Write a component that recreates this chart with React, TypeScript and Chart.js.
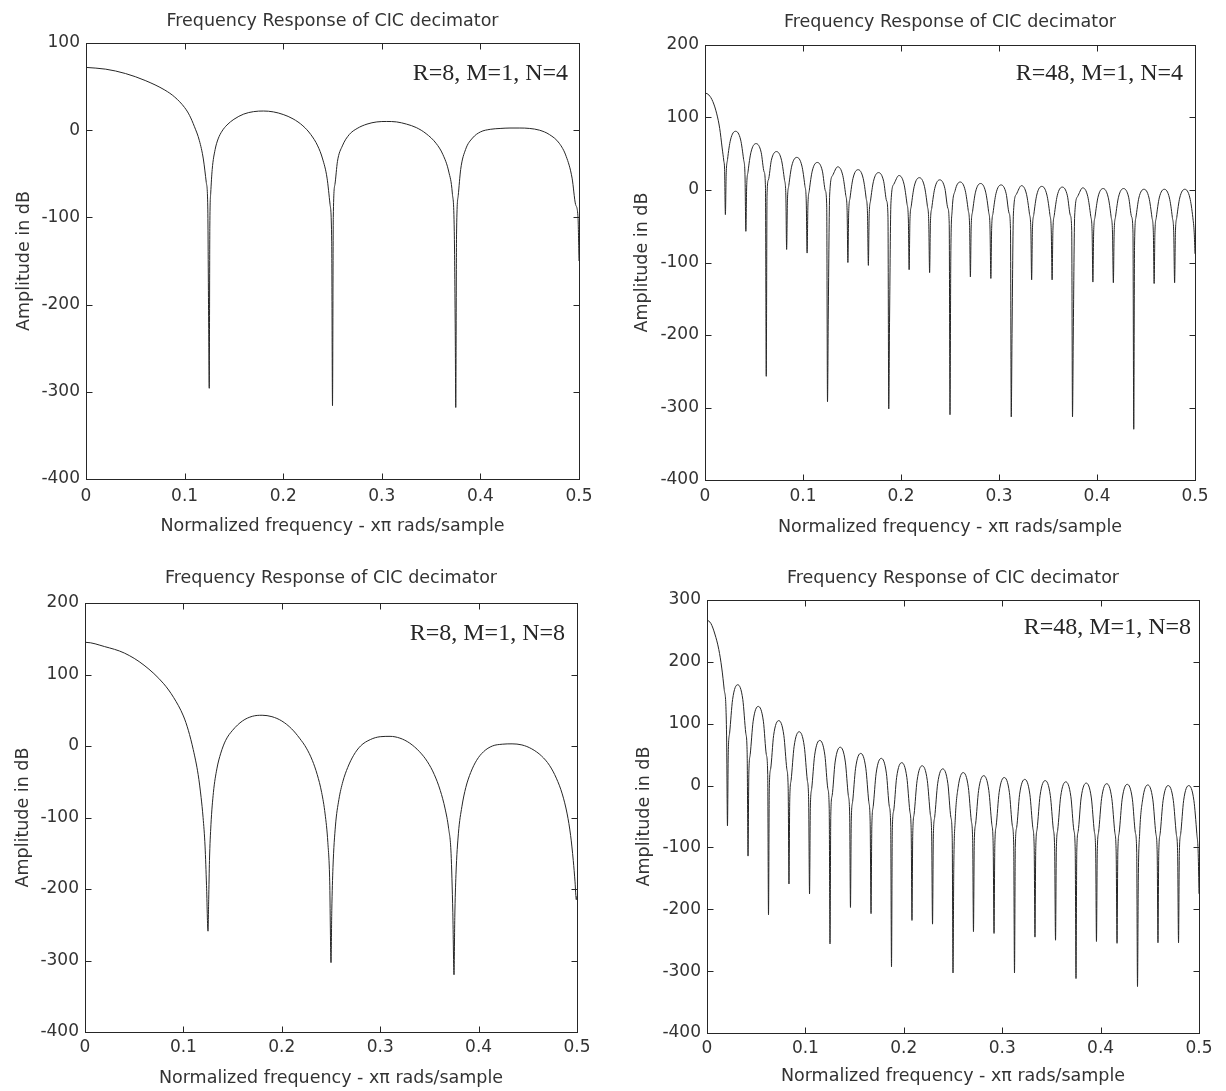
import React, { useEffect, useRef } from 'react';
import { Chart, registerables } from 'chart.js';

Chart.register(...registerables);

// ---------- text ----------
const CHART_TITLE = 'Frequency Response of CIC decimator';
const X_TITLE = 'Normalized frequency - xπ rads/sample';
const Y_TITLE = 'Amplitude in dB';
const NOTE_R8N4 = 'R=8, M=1, N=4';
const NOTE_R48N4 = 'R=48, M=1, N=4';
const NOTE_R8N8 = 'R=8, M=1, N=8';
const NOTE_R48N8 = 'R=48, M=1, N=8';

// ---------- axis ranges ----------
const X_MIN = 0;
const X_MAX = 0.5;
const X_STEP = 0.1;
const Y_MIN = -400;
const Y_STEP = 100;
const Y_MAX_R8N4 = 100;
const Y_MAX_R48N4 = 200;
const Y_MAX_R8N8 = 200;
const Y_MAX_R48N8 = 300;

// ---------- R=8, M=1, N=4 ----------
const freqR8N4 = [
  0, 0.02, 0.04, 0.06, 0.08, 0.09, 0.1, 0.105, 0.11, 0.115, 0.119, 0.122, 0.1235, 0.1243, 0.125,
  0.1256, 0.1265, 0.128, 0.131, 0.134, 0.138, 0.143, 0.15, 0.16, 0.17, 0.18, 0.19, 0.2, 0.21, 0.22, 0.228, 0.235, 0.24, 0.2445, 0.2475, 0.2492, 0.25,
  0.2508, 0.2525, 0.255, 0.26, 0.267, 0.275, 0.285, 0.295, 0.305, 0.315, 0.325, 0.335, 0.345, 0.355, 0.362, 0.368, 0.3715, 0.3735, 0.3745, 0.375,
  0.3758, 0.3775, 0.38, 0.385, 0.392, 0.4, 0.41, 0.42, 0.43, 0.44, 0.45, 0.46, 0.47, 0.48, 0.487, 0.493, 0.4965, 0.499, 0.5,
];
const dbR8N4 = [
  72, 70, 65, 57, 46, 38, 26, 17, 4, -12, -33, -60, -88, -207, -296,
  -110, -72, -45, -22, -10, -1, 6, 12.5, 18.5, 21.3, 22, 21, 18, 13, 5, -5, -18, -33, -55, -85, -128, -316,
  -100, -62, -36, -18, -5, 2, 7, 9.5, 10, 9.5, 7, 3, -4, -15, -28, -48, -72, -116, -231, -318,
  -120, -75, -45, -22, -9, -2, 1, 2, 2.5, 2.5, 2, 0, -5, -15, -30, -55, -85, -100, -150,
];

// ---------- R=8, M=1, N=8 ----------
const freqR8N8 = [
  0, 0.0005, 0.02, 0.04, 0.06, 0.08, 0.09, 0.1, 0.105, 0.11, 0.115, 0.118, 0.12, 0.122, 0.1235, 0.125,
  0.1257, 0.1265, 0.128, 0.1305, 0.134, 0.138, 0.143, 0.15, 0.16, 0.17, 0.18, 0.19, 0.2, 0.21, 0.218, 0.225, 0.231, 0.236, 0.2405, 0.244, 0.2468, 0.2487, 0.25,
  0.2508, 0.252, 0.2545, 0.258, 0.262, 0.267, 0.273, 0.28, 0.29, 0.3, 0.31, 0.32, 0.33, 0.34, 0.348, 0.355, 0.361, 0.366, 0.3695, 0.372, 0.3738, 0.375,
  0.3758, 0.377, 0.3795, 0.383, 0.387, 0.392, 0.398, 0.405, 0.414, 0.424, 0.434, 0.444, 0.454, 0.464, 0.472, 0.479, 0.485, 0.49, 0.4935, 0.4962, 0.498, 0.4993, 0.5,
];
const dbR8N8 = [
  110, 145, 139, 130, 113, 87, 68, 42, 22, -5, -40, -72, -100, -140, -195, -259,
  -215, -160, -110, -65, -32, -10, 8, 22, 35, 41.5, 43, 41, 35, 24, 11, -3, -20, -40, -65, -95, -135, -190, -303,
  -230, -170, -112, -75, -50, -30, -13, 0, 9, 13, 13.5, 11, 4, -8, -22, -40, -62, -88, -115, -150, -233, -320,
  -240, -180, -122, -85, -58, -37, -20, -8, 0, 2.5, 3, 1.5, -4, -14, -27, -45, -67, -95, -125, -160, -190, -215, -210,
];

// ---------- R=48 frequency samples (shared by both R=48 plots) ----------
const freqR48 = [
  0, 0.004, 0.008, 0.012, 0.015, 0.0175, 0.0192, 0.02, 0.0208,
  0.0216, 0.023, 0.026, 0.0312, 0.0364, 0.0394, 0.0408, 0.0417,
  0.0425, 0.0439, 0.0469, 0.0521, 0.0573, 0.0603, 0.0617, 0.0625,
  0.0633, 0.0647, 0.0677, 0.0729, 0.0781, 0.0811, 0.0825, 0.0833,
  0.0841, 0.0855, 0.0885, 0.0937, 0.0989, 0.1019, 0.1033, 0.1042,
  0.105, 0.1064, 0.1094, 0.1146, 0.1198, 0.1228, 0.1242, 0.125,
  0.1258, 0.1272, 0.1302, 0.1354, 0.1406, 0.1436, 0.145, 0.1458,
  0.1466, 0.148, 0.151, 0.1562, 0.1614, 0.1644, 0.1658, 0.1667,
  0.1675, 0.1689, 0.1719, 0.1771, 0.1823, 0.1853, 0.1867, 0.1875,
  0.1883, 0.1897, 0.1927, 0.1979, 0.2031, 0.2061, 0.2075, 0.2083,
  0.2091, 0.2105, 0.2135, 0.2187, 0.2239, 0.2269, 0.2283, 0.2292,
  0.23, 0.2314, 0.2344, 0.2396, 0.2448, 0.2478, 0.2492, 0.25,
  0.2508, 0.2522, 0.2552, 0.2604, 0.2656, 0.2686, 0.27, 0.2708,
  0.2716, 0.273, 0.276, 0.2812, 0.2864, 0.2894, 0.2908, 0.2917,
  0.2925, 0.2939, 0.2969, 0.3021, 0.3073, 0.3103, 0.3117, 0.3125,
  0.3133, 0.3147, 0.3177, 0.3229, 0.3281, 0.3311, 0.3325, 0.3333,
  0.3341, 0.3355, 0.3385, 0.3437, 0.3489, 0.3519, 0.3533, 0.3542,
  0.355, 0.3564, 0.3594, 0.3646, 0.3698, 0.3728, 0.3742, 0.375,
  0.3758, 0.3772, 0.3802, 0.3854, 0.3906, 0.3936, 0.395, 0.3958,
  0.3966, 0.398, 0.401, 0.4062, 0.4114, 0.4144, 0.4158, 0.4167,
  0.4175, 0.4189, 0.4219, 0.4271, 0.4323, 0.4353, 0.4367, 0.4375,
  0.4383, 0.4397, 0.4427, 0.4479, 0.4531, 0.4561, 0.4575, 0.4583,
  0.4591, 0.4605, 0.4635, 0.4687, 0.4739, 0.4769, 0.4783, 0.4792,
  0.48, 0.4814, 0.4844, 0.4896, 0.4948, 0.4978, 0.4992, 0.5,
];

// ---------- R=48, M=1, N=4 ----------
const dbR48N4 = [
  134, 131, 122, 105, 85, 58, 40, 28, -34,
  21, 42, 69, 81, 69, 42, 21, -57,
  4, 25, 52, 64, 52, 25, 4, -257,
  -7, 14, 41, 53, 41, 14, -7, -82,
  -15, 6, 33, 45, 33, 6, -15, -87,
  -22, -1, 26, 38, 26, -1, -22, -292,
  -171, -7, 20, 32, 20, -7, -28, -100,
  -32, -11, 16, 28, 16, -11, -32, -104,
  -36, -15, 12, 24, 12, -15, -36, -302,
  -183, -19, 8, 20, 8, -19, -40, -110,
  -43, -22, 5, 17, 5, -22, -43, -114,
  -46, -25, 2, 14, 2, -25, -46, -310,
  -95, -28, -1, 11, -1, -28, -49, -120,
  -51, -30, -3, 9, -3, -30, -51, -122,
  -53, -32, -5, 7, -5, -32, -53, -313,
  -198, -33, -6, 6, -6, -33, -54, -124,
  -55, -34, -7, 5, -7, -34, -55, -124,
  -56, -35, -8, 4, -8, -35, -56, -313,
  -200, -36, -9, 3, -9, -36, -57, -127,
  -58, -37, -10, 2, -10, -37, -58, -128,
  -58, -37, -10, 2, -10, -37, -58, -330,
  -77, -38, -11, 1, -11, -38, -59, -129,
  -59, -38, -11, 1, -11, -38, -59, -128,
  -59, -38, -11, 1, -11, -38, -59, -88,
];

// ---------- R=48, M=1, N=8 ----------
const dbR48N8 = [
  268, 262, 245, 220, 190, 155, 128, 69, -65,
  53, 85, 139, 163, 139, 85, 53, -114,
  18, 50, 104, 128, 104, 50, 18, -209,
  -5, 27, 81, 105, 81, 27, -5, -159,
  -23, 9, 63, 87, 63, 9, -23, -175,
  -37, -5, 49, 73, 49, -5, -37, -256,
  -48, -16, 38, 62, 38, -16, -48, -197,
  -58, -26, 28, 52, 28, -26, -58, -207,
  -66, -34, 20, 44, 20, -34, -66, -293,
  -73, -41, 13, 37, 13, -41, -73, -218,
  -78, -46, 8, 32, 8, -46, -78, -224,
  -83, -51, 3, 27, 3, -51, -83, -303,
  -132, -57, -3, 21, -3, -57, -89, -236,
  -94, -62, -8, 16, -8, -62, -94, -239,
  -97, -65, -11, 13, -11, -65, -97, -303,
  -100, -68, -14, 10, -14, -68, -100, -245,
  -102, -70, -16, 8, -16, -70, -102, -250,
  -104, -72, -18, 6, -18, -72, -104, -312,
  -106, -74, -20, 4, -20, -74, -106, -252,
  -107, -75, -21, 3, -21, -75, -107, -255,
  -108, -76, -22, 2, -22, -76, -108, -325,
  -153, -77, -23, 1, -23, -77, -109, -254,
  -110, -78, -24, 0, -24, -78, -110, -254,
  -110, -78, -24, 0, -24, -78, -110, -175,
];

// ---------- styling ----------
const INK = '#262626';
const TEXT_INK = '#333333';
const SANS = '"DejaVu Sans", "Liberation Sans", sans-serif';
const SERIF = '"Liberation Serif", "DejaVu Serif", serif';

type PanelCfg = {
  left: number; top: number; w: number; h: number;
  freq: number[]; db: number[]; yMax: number; note: string;
  yAxisW: number; xAxisH: number; padRight: number;
  titlePadTop: number; titlePadBottom: number;
  yTitlePad: number; xTitlePad: number; xTickPad: number;
  noteDx: number; noteDy: number;
};

const panels: PanelCfg[] = [
  { left: 0, top: 0, w: 613, h: 545, freq: freqR8N4, db: dbR8N4, yMax: Y_MAX_R8N4, note: NOTE_R8N4,
    yAxisW: 86, xAxisH: 66, padRight: 34, titlePadTop: 10.5, titlePadBottom: 11.5,
    yTitlePad: 13.5, xTitlePad: 8.5, xTickPad: 7, noteDx: 11, noteDy: 37 },
  { left: 613, top: 0, w: 613, h: 545, freq: freqR48, db: dbR48N4, yMax: Y_MAX_R48N4, note: NOTE_R48N4,
    yAxisW: 92, xAxisH: 65, padRight: 31, titlePadTop: 11.5, titlePadBottom: 12.5,
    yTitlePad: 18.5, xTitlePad: 7.5, xTickPad: 6, noteDx: 12, noteDy: 35 },
  { left: 0, top: 545, w: 613, h: 546, freq: freqR8N8, db: dbR8N8, yMax: Y_MAX_R8N8, note: NOTE_R8N8,
    yAxisW: 85, xAxisH: 59, padRight: 36, titlePadTop: 22.5, titlePadBottom: 14.5,
    yTitlePad: 12.5, xTitlePad: 2.5, xTickPad: 5, noteDx: 12, noteDy: 37 },
  { left: 613, top: 545, w: 613, h: 546, freq: freqR48, db: dbR48N8, yMax: Y_MAX_R48N8, note: NOTE_R48N8,
    yAxisW: 94, xAxisH: 58, padRight: 27, titlePadTop: 22.5, titlePadBottom: 11.5,
    yTitlePad: 20.5, xTitlePad: 4.5, xTickPad: 5, noteDx: 8, noteDy: 34 },
];

// Box around the axes, inward ticks on all four sides, and the parameter note.
const matlabFrame = {
  id: 'matlabFrame',
  afterDatasetsDraw(chart: any, _args: any, opts: any) {
    const { ctx, chartArea } = chart;
    const l = Math.round(chartArea.left) + 0.5;
    const r = Math.round(chartArea.right) + 0.5;
    const t = Math.round(chartArea.top) + 0.5;
    const b = Math.round(chartArea.bottom) + 0.5;
    const tick = 6;
    ctx.save();
    ctx.strokeStyle = INK;
    ctx.lineWidth = 1;
    ctx.strokeRect(l, t, r - l, b - t);
    ctx.beginPath();
    const xs = chart.scales.x;
    const ys = chart.scales.y;
    xs.ticks.forEach((tk: any) => {
      const px = Math.round(xs.getPixelForValue(tk.value)) + 0.5;
      ctx.moveTo(px, b); ctx.lineTo(px, b - tick);
      ctx.moveTo(px, t); ctx.lineTo(px, t + tick);
    });
    ys.ticks.forEach((tk: any) => {
      const py = Math.round(ys.getPixelForValue(tk.value)) + 0.5;
      ctx.moveTo(l, py); ctx.lineTo(l + tick, py);
      ctx.moveTo(r, py); ctx.lineTo(r - tick, py);
    });
    ctx.stroke();
    ctx.font = `24px ${SERIF}`;
    ctx.fillStyle = INK;
    ctx.textAlign = 'right';
    ctx.textBaseline = 'alphabetic';
    ctx.fillText(opts.text, chartArea.right - opts.dx, chartArea.top + opts.dy);
    ctx.restore();
  },
};

function buildConfig(p: PanelCfg): any {
  const points = p.freq.map((f, i) => ({ x: f, y: p.db[i] }));
  return {
    type: 'line',
    data: {
      datasets: [{
        data: points,
        borderColor: INK,
        borderWidth: 1,
        pointRadius: 0,
        fill: false,
        cubicInterpolationMode: 'monotone',
      }],
    },
    plugins: [matlabFrame],
    options: {
      animation: false,
      responsive: false,
      maintainAspectRatio: false,
      events: [],
      layout: { padding: { left: 0, top: 0, right: p.padRight, bottom: 0 } },
      plugins: {
        legend: { display: false },
        tooltip: { enabled: false },
        title: {
          display: true,
          text: CHART_TITLE,
          fullSize: false,
          color: TEXT_INK,
          font: { family: SANS, size: 17.5, weight: 'normal' },
          padding: { top: p.titlePadTop, bottom: p.titlePadBottom },
        },
        matlabFrame: { text: p.note, dx: p.noteDx, dy: p.noteDy },
      },
      scales: {
        x: {
          type: 'linear',
          min: X_MIN,
          max: X_MAX,
          grid: { display: false, drawTicks: false },
          border: { display: false },
          ticks: { stepSize: X_STEP, color: TEXT_INK, padding: p.xTickPad, font: { family: SANS, size: 17 }, maxRotation: 0 },
          title: {
            display: true,
            text: X_TITLE,
            color: TEXT_INK,
            font: { family: SANS, size: 17.5 },
            padding: { top: 0, bottom: p.xTitlePad },
          },
          afterFit: (s: any) => { s.height = p.xAxisH; },
        },
        y: {
          type: 'linear',
          min: Y_MIN,
          max: p.yMax,
          grid: { display: false, drawTicks: false },
          border: { display: false },
          ticks: { stepSize: Y_STEP, color: TEXT_INK, padding: 6, font: { family: SANS, size: 17 } },
          title: {
            display: true,
            text: Y_TITLE,
            color: TEXT_INK,
            font: { family: SANS, size: 17.5 },
            padding: { top: p.yTitlePad, bottom: 0 },
          },
          afterFit: (s: any) => { s.width = p.yAxisW; },
        },
      },
    },
  };
}

function Panel({ p }: { p: PanelCfg }) {
  const ref = useRef<HTMLCanvasElement | null>(null);
  useEffect(() => {
    if (!ref.current) return;
    const chart = new Chart(ref.current, buildConfig(p));
    return () => chart.destroy();
  }, [p]);
  return (
    <canvas
      ref={ref}
      width={p.w}
      height={p.h}
      style={{ position: 'absolute', left: p.left, top: p.top, width: p.w, height: p.h }}
    />
  );
}

export default function App() {
  return (
    <div style={{ position: 'absolute', left: 0, top: 0, width: 1226, height: 1091, background: '#ffffff', overflow: 'hidden' }}>
      {panels.map((p, i) => <Panel key={i} p={p} />)}
    </div>
  );
}
